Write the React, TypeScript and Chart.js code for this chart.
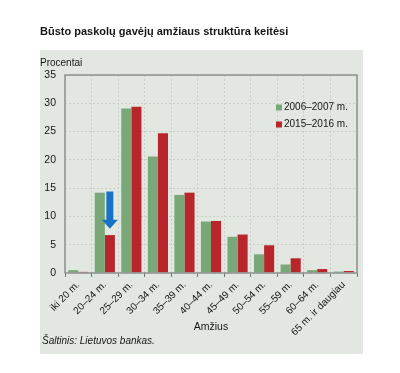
import React, { useEffect, useRef } from "react";
import { Chart, registerables } from "chart.js";

Chart.register(...registerables);

const FONT = "'Liberation Sans', Arial, sans-serif";

const chartTitle = "Būsto paskolų gavėjų amžiaus struktūra keitėsi";
const yUnit = "Procentai";
const xTitle = "Amžius";
const sourceText = "Šaltinis: Lietuvos bankas.";

const categories = [
  "iki 20 m.",
  "20–24 m.",
  "25–29 m.",
  "30–34 m.",
  "35–39 m.",
  "40–44 m.",
  "45–49 m.",
  "50–54 m.",
  "55–59 m.",
  "60–64 m.",
  "65 m. ir daugiau",
];
const seriesLabels = ["2006–2007 m.", "2015–2016 m."];
const series2006 = [0.5, 14.2, 29.1, 20.6, 13.8, 9.1, 6.4, 3.3, 1.5, 0.5, 0.25];
const series2015 = [0.2, 6.7, 29.4, 24.7, 14.2, 9.2, 6.8, 4.9, 2.6, 0.7, 0.35];
const yMin = 0;
const yMax = 35;
const yStep = 5;

// arrow annotation (data units)
const arrowIndex = 1;
const arrowFrom = 14.4;
const arrowTo = 7.8;

const GREEN = "#79a777";
const RED = "#b8262c";
const BLUE = "#1a72c8";
const PANEL = "#e2e8e1";
const GRID = "#c8d0c8";
const BORDER = "#8b918b";
const TEXT = "#161616";

export default function App() {
  const ref = useRef<HTMLCanvasElement>(null);

  useEffect(() => {
    const canvas = ref.current!;
    Chart.defaults.font.family = FONT;
    Chart.defaults.color = TEXT;

    const decor = {
      id: "decor",
      beforeDraw(chart: any) {
        const { ctx } = chart;
        ctx.save();
        ctx.fillStyle = "#ffffff";
        ctx.fillRect(0, 0, chart.width, chart.height);
        ctx.fillStyle = PANEL;
        ctx.fillRect(40, 50, 323, 304);
        ctx.fillStyle = TEXT;
        ctx.textBaseline = "alphabetic";
        ctx.textAlign = "left";
        ctx.font = `bold 11px ${FONT}`;
        ctx.fillText(chartTitle, 40, 35);
        ctx.font = `10px ${FONT}`;
        ctx.fillText(yUnit, 40, 66);
        ctx.font = `italic 10px ${FONT}`;
        ctx.fillText(sourceText, 42, 344);
        ctx.restore();
      },
      afterDatasetsDraw(chart: any) {
        const { ctx, chartArea: a, scales } = chart;
        ctx.save();
        // plot border
        ctx.strokeStyle = BORDER;
        ctx.lineWidth = 1.5;
        ctx.strokeRect(a.left, a.top, a.right - a.left, a.bottom - a.top);

        // arrow
        const bar = chart.getDatasetMeta(1).data[arrowIndex];
        const x = bar.x;
        const yTop = scales.y.getPixelForValue(arrowFrom);
        const yTip = scales.y.getPixelForValue(arrowTo);
        const shaftHalf = 3.5;
        const headHalf = 8;
        const headLen = 9;
        ctx.fillStyle = BLUE;
        ctx.beginPath();
        ctx.moveTo(x - shaftHalf, yTop);
        ctx.lineTo(x + shaftHalf, yTop);
        ctx.lineTo(x + shaftHalf, yTip - headLen);
        ctx.lineTo(x + headHalf, yTip - headLen);
        ctx.lineTo(x, yTip);
        ctx.lineTo(x - headHalf, yTip - headLen);
        ctx.lineTo(x - shaftHalf, yTip - headLen);
        ctx.closePath();
        ctx.fill();

        // legend
        const lx = a.right - 81;
        const ly = a.top + 32.5;
        const colors = [GREEN, RED];
        ctx.font = `10px ${FONT}`;
        ctx.textBaseline = "middle";
        ctx.textAlign = "left";
        chart.data.datasets.forEach((ds: any, i: number) => {
          const y = ly + i * 17;
          ctx.fillStyle = colors[i];
          ctx.fillRect(lx, y - 3, 6, 6);
          ctx.fillStyle = TEXT;
          ctx.fillText(ds.label, lx + 8, y);
        });
        ctx.restore();
      },
    };

    const chart = new Chart(canvas, {
      type: "bar",
      data: {
        labels: categories,
        datasets: [
          {
            label: seriesLabels[0],
            data: series2006,
            backgroundColor: GREEN,
            categoryPercentage: 0.76,
            barPercentage: 1,
          },
          {
            label: seriesLabels[1],
            data: series2015,
            backgroundColor: RED,
            categoryPercentage: 0.76,
            barPercentage: 1,
          },
        ],
      },
      options: {
        responsive: false,
        animation: false,
        layout: { padding: { left: 40, right: 43, top: 75, bottom: 0 } },
        plugins: {
          legend: { display: false },
          tooltip: { enabled: false },
          title: { display: false },
        },
        scales: {
          x: {
            grid: {
              offset: true,
              color: GRID,
              drawTicks: true,
              tickLength: 4,
              tickColor: "#6f756f",
              tickBorderDash: [],
              tickWidth: 1,
            },
            border: { display: false, dash: [2, 2] },
            ticks: {
              minRotation: 45,
              maxRotation: 45,
              padding: 2,
              autoSkip: false,
              font: { size: 10, family: FONT },
              color: TEXT,
            },
            title: {
              display: true,
              text: xTitle,
              font: { size: 10.5, family: FONT },
              color: TEXT,
              padding: { top: 0, bottom: 40 },
            },
            afterFit(scale: any) {
              scale.height = 100;
            },
          },
          y: {
            min: yMin,
            max: yMax,
            grid: { color: GRID, drawTicks: false },
            border: { display: false, dash: [2, 2] },
            ticks: {
              stepSize: yStep,
              padding: 9,
              font: { size: 10.5, family: FONT },
              color: TEXT,
            },
            afterFit(scale: any) {
              scale.width = 25;
            },
          },
        },
      },
      plugins: [decor],
    } as any);

    return () => chart.destroy();
  }, []);

  return (
    <div style={{ position: "absolute", left: 0, top: 0, width: 400, height: 373 }}>
      <canvas ref={ref} width={400} height={373} style={{ display: "block" }} />
    </div>
  );
}
